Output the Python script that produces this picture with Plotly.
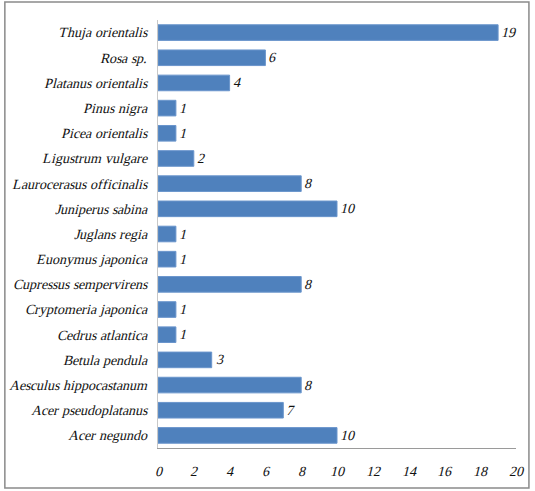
import plotly.graph_objects as go

species = [
    "Acer negundo", "Acer pseudoplatanus", "Aesculus hippocastanum", "Betula pendula",
    "Cedrus atlantica", "Cryptomeria japonica", "Cupressus sempervirens", "Euonymus japonica",
    "Juglans regia", "Juniperus sabina", "Laurocerasus officinalis", "Ligustrum vulgare",
    "Picea orientalis", "Pinus nigra", "Platanus orientalis", "Rosa sp.", "Thuja orientalis",
]
counts = [10, 7, 8, 3, 1, 1, 8, 1, 1, 10, 8, 2, 1, 1, 4, 6, 19]
x_ticks = list(range(0, 21, 2))

font_family = "SerifSynth, Liberation Serif"
fs = 14
txt_color = "#111"

fig = go.Figure(go.Bar(
    y=species, x=counts, orientation="h",
    marker=dict(color="#4F81BD", line=dict(color="#6A95CC", width=1)),
    width=0.62,
    text=[str(c) for c in counts], textposition="outside",
    textfont=dict(family=font_family, size=fs, color=txt_color, style="italic"),
    cliponaxis=False,
))

fig.update_layout(
    width=535, height=491,
    margin=dict(l=158, r=17, t=20, b=43),
    paper_bgcolor="white", plot_bgcolor="white",
    showlegend=False,
    font=dict(family=font_family, size=fs, color=txt_color, style="italic"),
    xaxis=dict(range=[0, 20], tickvals=x_ticks, showgrid=False, zeroline=False,
               showline=True, linecolor="#9a9a9a", linewidth=1, ticks="",
               tickfont=dict(family=font_family, size=fs, color=txt_color, style="italic"),
               ticklabelstandoff=10),
    yaxis=dict(showgrid=False, showline=True, linecolor="#c8c8c8", linewidth=1, ticks="",
               tickfont=dict(family=font_family, size=fs, color=txt_color, style="italic"),
               ticklabelstandoff=7,
               categoryorder="array", categoryarray=species, automargin=False),
    bargap=0.37,
)

fig.add_shape(type="rect", xref="paper", yref="paper",
              x0=(4 - 158) / 360, x1=(531 - 158) / 360,
              y0=(448 - 488) / 428, y1=(448 - 2) / 428,
              line=dict(color="#8a8a8a", width=1.5), fillcolor="rgba(0,0,0,0)", layer="above")

post = """
document.body.style.margin='0';document.body.style.overflow='hidden';
var st=document.createElement('style');
st.textContent="@font-face{font-family:'SerifSynth';src:local('Liberation Serif'),local('LiberationSerif'),local('Liberation Serif Regular');font-style:normal;font-weight:400;}";
document.head.appendChild(st);
"""

fig.write_html("out.html", config={"displayModeBar": False}, post_script=post)
